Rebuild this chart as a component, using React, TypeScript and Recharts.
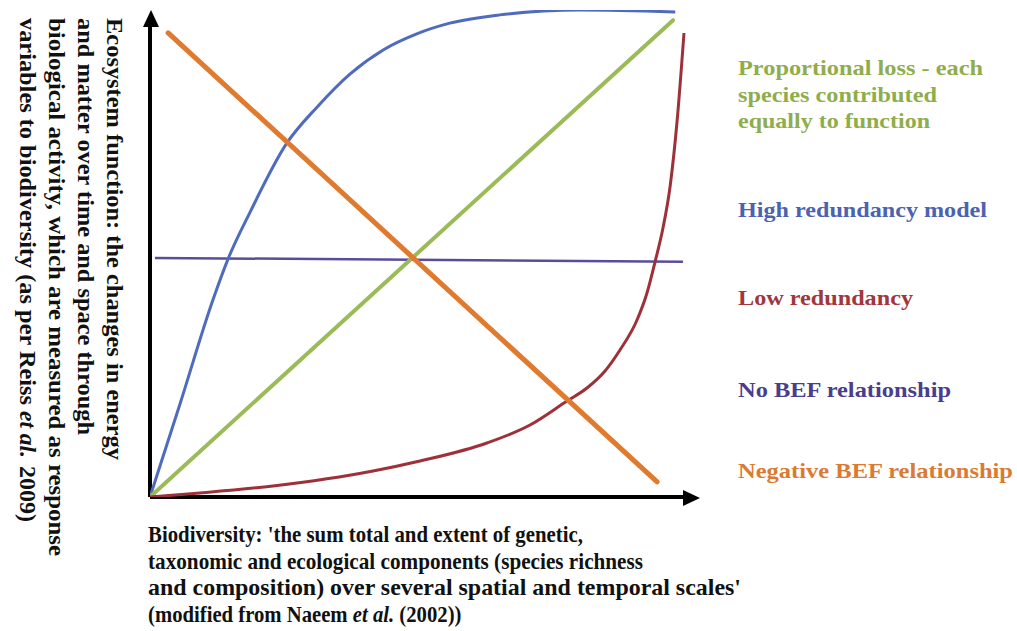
import { LineChart, Line, XAxis, YAxis, ReferenceLine, ReferenceDot } from "recharts";

// values, axes run 0..100 on both sides
const proportionalX = [0, 95.1];
const proportionalY = [0, 97.9];

const highRedundancyX = [0, 5.45, 11.45, 14.2, 18.2, 24.9, 30.4, 36.4, 42.4, 48.5, 54.5, 63.6, 78.2, 95.5];
const highRedundancyY = [0, 19.1, 40.5, 48.9, 58.5, 72.7, 80.1, 86.9, 91.8, 95.1, 97.3, 99.0, 100, 99.6];

const lowRedundancyX = [0, 9.09, 22.36, 40.55, 49.09, 61.27, 69.09, 75.82, 79.45, 82.73, 85.45, 88.55, 90.36, 91.82, 93.27, 94.55, 95.82, 97.09];
const lowRedundancyY = [0, 0.82, 2.26, 5.34, 7.39, 11.09, 14.78, 19.71, 22.38, 25.87, 30.18, 36.34, 41.89, 48.25, 55.24, 63.66, 77.0, 95.28];

const noBefX = [0.9, 96.9];
const noBefY = [49.1, 48.3];

const negativeX = [3.3, 92.2];
const negativeY = [95.3, 3.1];

const zip = (xs: number[], ys: number[]) => xs.map((x, i) => ({ x, y: ys[i] }));

// each piece: text, start, length along the reading direction, italic
type Piece = { t: string; at: number; len: number; it?: boolean };

const yLabelLines: Piece[][] = [
  [{ t: "Ecosystem function: the changes in energy", at: 18, len: 442 }],
  [{ t: "and matter over time and space through", at: 18, len: 417 }],
  [{ t: "biological activity, which are measured as response", at: 18, len: 538 }],
  [
    { t: "variables to biodiversity (as per Reiss", at: 18, len: 387 },
    { t: "et al.", at: 411, len: 47, it: true },
    { t: "2009)", at: 466, len: 56 },
  ],
];

const xLabelLines = [
  { text: "Biodiversity: 'the sum total and extent of genetic,", len: 435 },
  { text: "taxonomic and ecological components (species richness", len: 495 },
  { text: "and composition) over several spatial and temporal scales'", len: 593 },
];
const xLabelLast = ["(modified from Naeem ", "et al.", " (2002))"];

const legendItems = [
  { lines: ["Proportional loss - each", "species contributed", "equally to function"], lens: [245, 199, 192], y: 75, color: "#8FAD4C" },
  { lines: ["High redundancy model"], lens: [249], y: 217, color: "#4B63AF" },
  { lines: ["Low redundancy"], lens: [175], y: 305, color: "#A2363D" },
  { lines: ["No BEF relationship"], lens: [213], y: 397, color: "#4A3E8C" },
  { lines: ["Negative BEF relationship"], lens: [275], y: 478, color: "#DB7A31" },
];

const FONT = "Liberation Serif";

const UpArrow = (props: any) => {
  const { cx, cy } = props;
  return <path d={`M${cx + 1},${cy} L${cx - 7},${cy + 17} L${cx + 9},${cy + 17} Z`} fill="#000" />;
};

const RightArrow = (props: any) => {
  const { cx, cy } = props;
  return <path d={`M${cx},${cy + 1} L${cx - 17},${cy - 7} L${cx - 17},${cy + 9} Z`} fill="#000" />;
};

export default function App() {
  return (
    <div style={{ position: "absolute", left: 0, top: 0, width: 1017, height: 631, background: "#fff" }}>
      <LineChart width={1017} height={631} margin={{ top: 10, right: 317, bottom: 134, left: 150 }}>
        <XAxis type="number" dataKey="x" domain={[0, 100]} hide allowDataOverflow />
        <YAxis type="number" dataKey="y" domain={[0, 100]} hide allowDataOverflow />

        <ReferenceLine segment={[{ x: 0, y: 0 }, { x: 97, y: 0 }]} stroke="#000" strokeWidth={4} ifOverflow="visible" />
        <ReferenceLine segment={[{ x: 0, y: 0 }, { x: 0, y: 97 }]} stroke="#000" strokeWidth={4} ifOverflow="visible" />
        <ReferenceDot x={0} y={100} shape={UpArrow} ifOverflow="visible" />
        <ReferenceDot x={100} y={0} shape={RightArrow} ifOverflow="visible" />

        <Line data={zip(noBefX, noBefY)} dataKey="y" stroke="#5A4C9C" strokeWidth={2.5} dot={false} isAnimationActive={false} />
        <Line data={zip(highRedundancyX, highRedundancyY)} dataKey="y" type="monotone" stroke="#4F6BBE" strokeWidth={3} dot={false} isAnimationActive={false} />
        <Line data={zip(proportionalX, proportionalY)} dataKey="y" stroke="#9BBB59" strokeWidth={4} strokeLinecap="round" dot={false} isAnimationActive={false} />
        <Line data={zip(lowRedundancyX, lowRedundancyY)} dataKey="y" type="monotone" stroke="#9E3039" strokeWidth={3} dot={false} isAnimationActive={false} />
        <Line data={zip(negativeX, negativeY)} dataKey="y" stroke="#E07A2E" strokeWidth={5} strokeLinecap="round" dot={false} isAnimationActive={false} />
      </LineChart>

      <svg width={1017} height={631} style={{ position: "absolute", left: 0, top: 0, pointerEvents: "none" }}>
        {yLabelLines.map((pieces, i) =>
          pieces.map((p) => (
            <text
              key={p.t}
              transform={`translate(${107 - i * 29}, ${p.at}) rotate(90)`}
              fontFamily={FONT}
              fontWeight="bold"
              fontStyle={p.it ? "italic" : "normal"}
              fontSize={23}
              fill="#111"
              textLength={p.len}
              lengthAdjust="spacingAndGlyphs"
            >
              {p.t}
            </text>
          ))
        )}

        {xLabelLines.map((l, i) => (
          <text
            key={l.text}
            x={148}
            y={542 + i * 26.7}
            fontFamily={FONT}
            fontWeight="bold"
            fontSize={23}
            fill="#111"
            textLength={l.len}
            lengthAdjust="spacingAndGlyphs"
          >
            {l.text}
          </text>
        ))}
        <text
          transform={`translate(148, ${542 + 3 * 26.7}) scale(0.9, 1)`}
          fontFamily={FONT}
          fontWeight="bold"
          fontSize={23}
          fill="#111"
        >
          {xLabelLast.map((p, i) => (
            <tspan key={i} fontStyle={i === 1 ? "italic" : "normal"}>
              {p}
            </tspan>
          ))}
        </text>

        {legendItems.map((item) =>
          item.lines.map((line, j) => (
            <text
              key={line}
              x={738}
              y={item.y + j * 26.5}
              fontFamily={FONT}
              fontWeight="bold"
              fontSize={21}
              fill={item.color}
              textLength={item.lens[j]}
              lengthAdjust="spacingAndGlyphs"
            >
              {line}
            </text>
          ))
        )}
      </svg>
    </div>
  );
}
